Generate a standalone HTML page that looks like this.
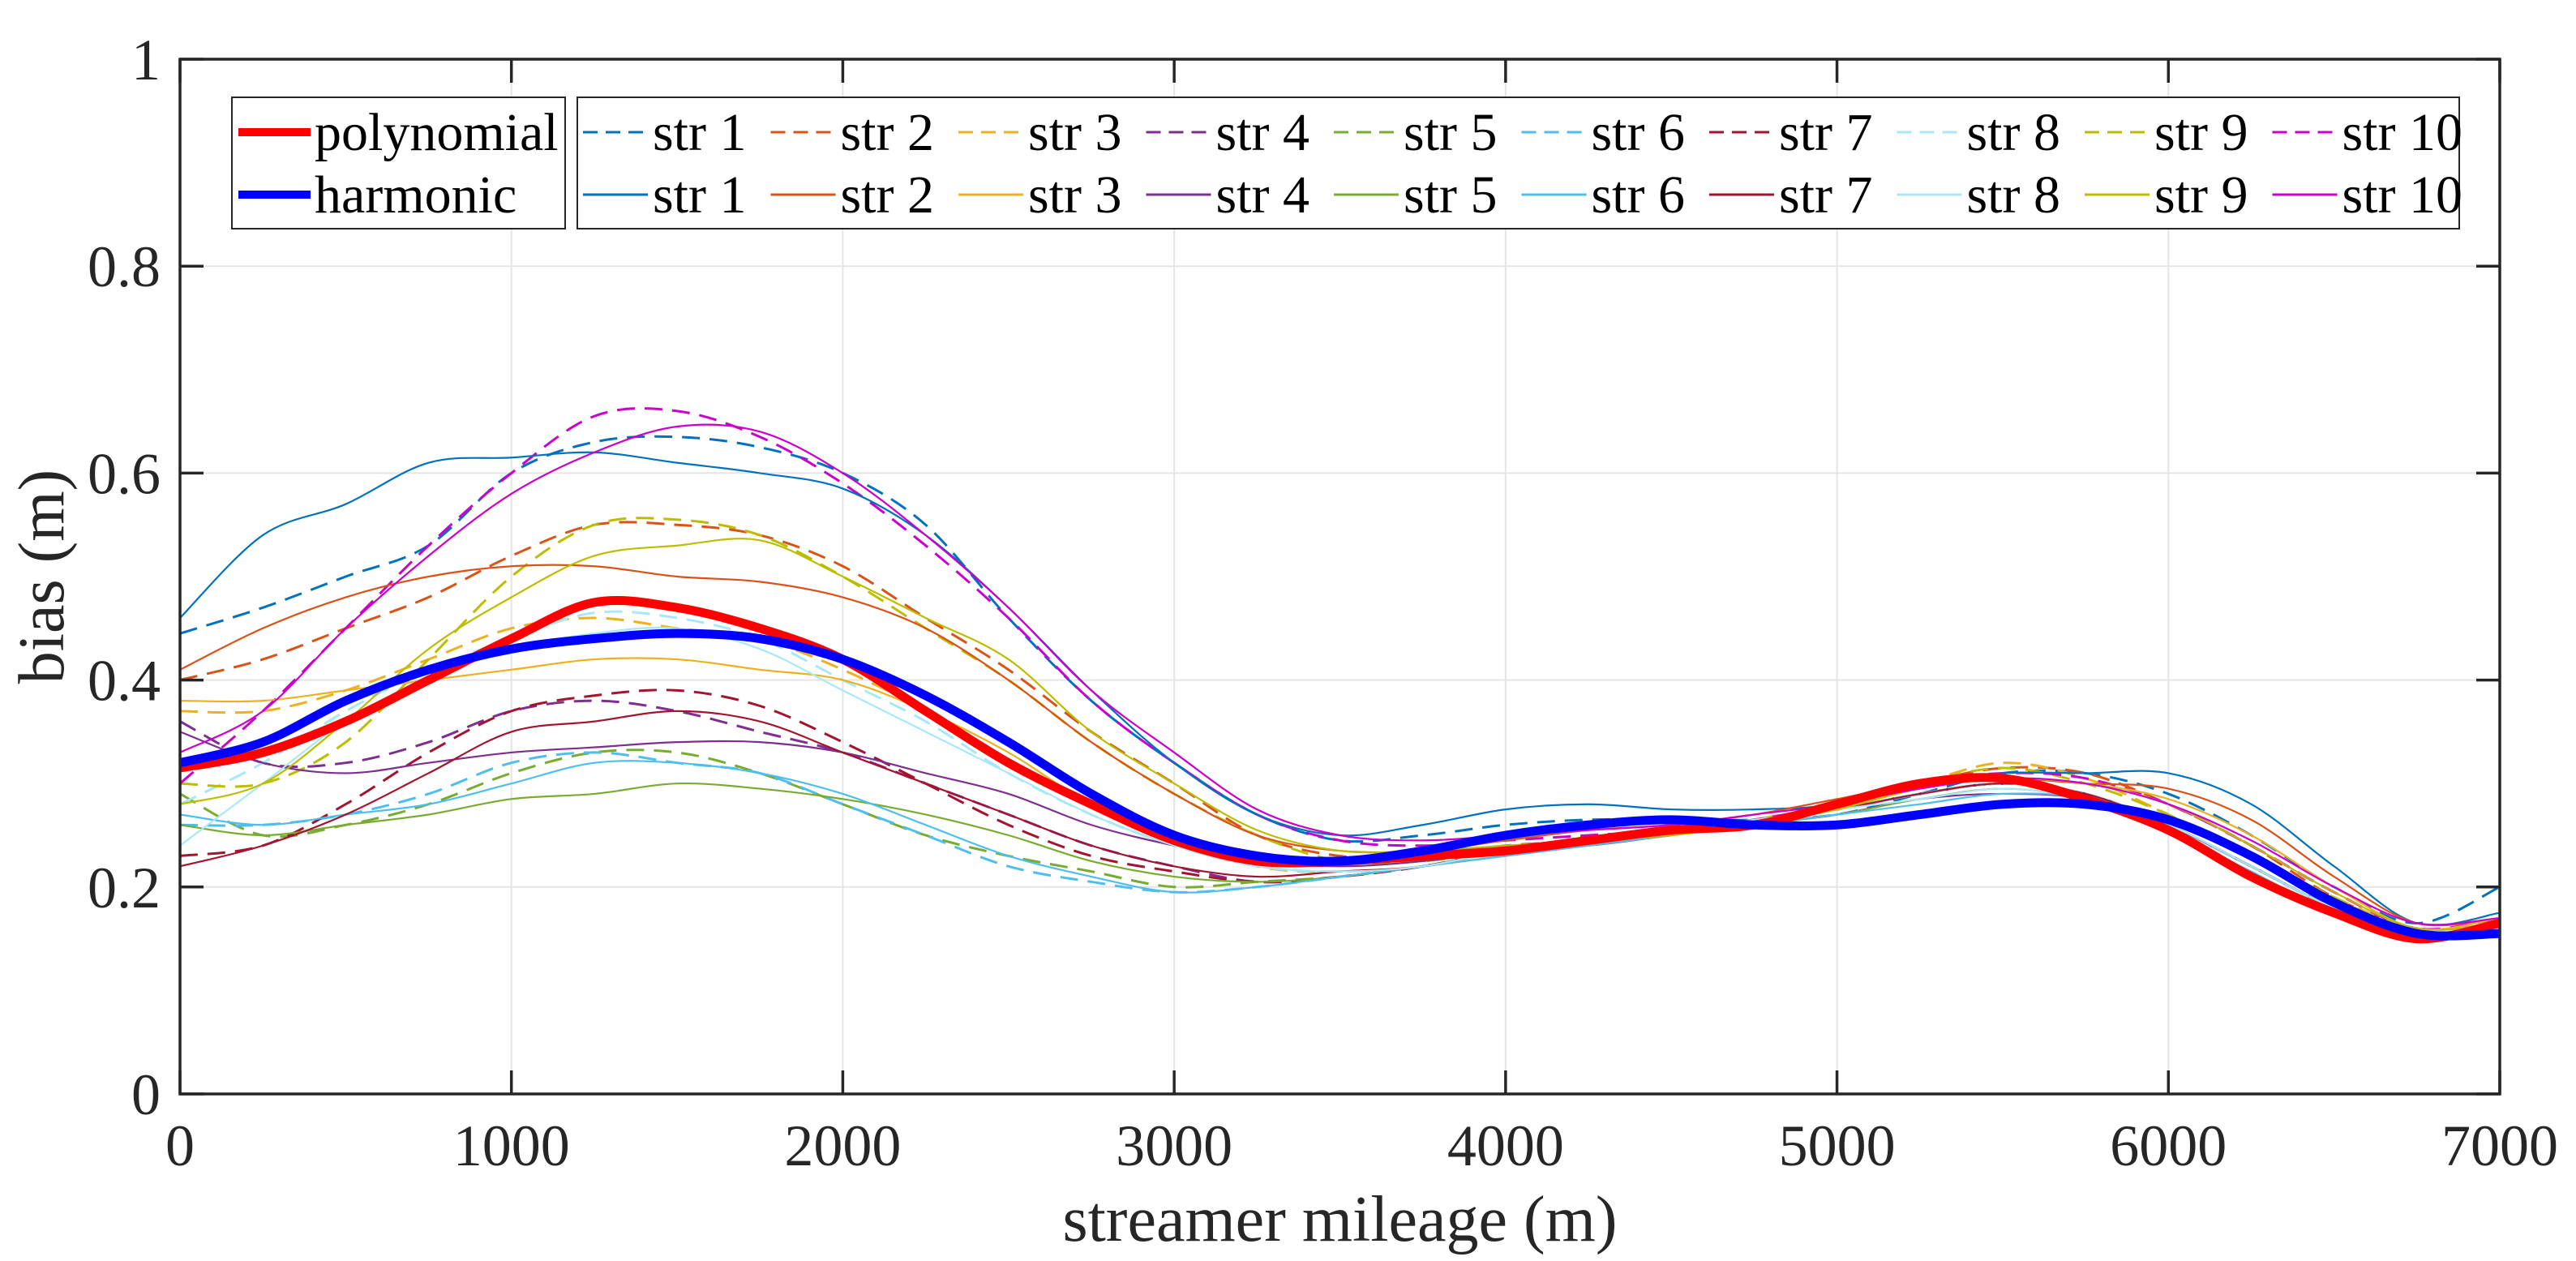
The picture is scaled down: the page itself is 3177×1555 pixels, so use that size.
<!DOCTYPE html>
<html><head><meta charset="utf-8"><style>
html,body{margin:0;padding:0;background:#fff;}
svg{display:block;}
svg text{font-family:"Liberation Serif","Times New Roman",serif;}
</style></head><body>
<svg id="chart" width="3177" height="1555" viewBox="0 0 3177 1555"></svg>
<script>
const xs = [0,250,500,750,1000,1250,1500,1750,2000,2250,2500,2750,3000,3250,3500,3750,4000,4250,4500,4750,5000,5250,5500,5750,6000,6250,6500,6750,7000];
const xTicks = [0,1000,2000,3000,4000,5000,6000,7000];
const yTicks = [0,0.2,0.4,0.6,0.8,1];
const yTickLabels = ["0","0.2","0.4","0.6","0.8","1"];
const strNames = ["str 1","str 2","str 3","str 4","str 5","str 6","str 7","str 8","str 9","str 10"];
const strColors = ["#0072BD","#D95319","#EDB120","#7E2F8E","#77AC30","#4DBEEE","#A2142F","#A8E8FA","#BDBD00","#CC00CC"];
const dashedSeries = [
[0.445,0.47,0.50,0.53,0.60,0.63,0.635,0.625,0.60,0.55,0.46,0.38,0.32,0.27,0.245,0.25,0.26,0.265,0.265,0.265,0.27,0.29,0.31,0.31,0.29,0.25,0.20,0.165,0.20],
[0.40,0.42,0.45,0.48,0.52,0.55,0.55,0.54,0.51,0.46,0.41,0.35,0.30,0.25,0.23,0.23,0.24,0.245,0.255,0.265,0.28,0.30,0.315,0.31,0.28,0.24,0.19,0.16,0.165],
[0.37,0.37,0.39,0.42,0.45,0.46,0.45,0.44,0.41,0.37,0.32,0.28,0.25,0.22,0.215,0.22,0.235,0.245,0.25,0.265,0.28,0.30,0.32,0.305,0.27,0.23,0.19,0.16,0.165],
[0.36,0.32,0.32,0.34,0.37,0.38,0.37,0.35,0.33,0.30,0.27,0.24,0.22,0.205,0.21,0.22,0.235,0.245,0.255,0.265,0.275,0.29,0.30,0.29,0.26,0.22,0.18,0.155,0.16],
[0.29,0.25,0.26,0.28,0.31,0.33,0.33,0.31,0.28,0.25,0.23,0.215,0.20,0.205,0.21,0.22,0.235,0.245,0.255,0.265,0.275,0.29,0.30,0.29,0.26,0.22,0.18,0.155,0.16],
[0.26,0.26,0.27,0.29,0.32,0.33,0.32,0.31,0.28,0.25,0.22,0.205,0.195,0.20,0.21,0.22,0.235,0.245,0.255,0.265,0.275,0.29,0.30,0.29,0.26,0.22,0.18,0.155,0.16],
[0.23,0.24,0.28,0.33,0.37,0.385,0.39,0.375,0.34,0.30,0.26,0.23,0.215,0.205,0.21,0.22,0.235,0.245,0.255,0.265,0.275,0.29,0.30,0.29,0.26,0.22,0.18,0.155,0.16],
[0.28,0.32,0.37,0.41,0.44,0.465,0.46,0.44,0.40,0.36,0.31,0.27,0.24,0.22,0.215,0.22,0.235,0.245,0.255,0.265,0.275,0.29,0.30,0.29,0.26,0.22,0.18,0.155,0.165],
[0.30,0.30,0.34,0.42,0.50,0.55,0.555,0.54,0.50,0.45,0.40,0.34,0.29,0.25,0.225,0.225,0.235,0.245,0.255,0.265,0.28,0.30,0.315,0.30,0.27,0.23,0.19,0.155,0.16],
[0.30,0.37,0.45,0.53,0.60,0.655,0.66,0.635,0.59,0.53,0.46,0.38,0.32,0.27,0.245,0.24,0.245,0.25,0.255,0.265,0.28,0.30,0.31,0.305,0.28,0.24,0.195,0.16,0.17]
];
const solidSeries = [
[0.46,0.54,0.57,0.61,0.615,0.62,0.61,0.60,0.585,0.54,0.47,0.39,0.32,0.27,0.25,0.26,0.275,0.28,0.275,0.275,0.28,0.30,0.31,0.31,0.31,0.28,0.22,0.165,0.175],
[0.41,0.45,0.48,0.50,0.51,0.51,0.50,0.495,0.48,0.45,0.40,0.34,0.29,0.25,0.235,0.235,0.245,0.255,0.26,0.27,0.285,0.30,0.305,0.30,0.295,0.265,0.21,0.165,0.17],
[0.38,0.38,0.39,0.40,0.41,0.42,0.42,0.41,0.40,0.37,0.33,0.28,0.25,0.225,0.22,0.225,0.235,0.24,0.25,0.26,0.275,0.295,0.305,0.30,0.285,0.25,0.20,0.16,0.17],
[0.35,0.32,0.31,0.32,0.33,0.335,0.34,0.34,0.33,0.31,0.29,0.26,0.24,0.225,0.22,0.225,0.235,0.24,0.25,0.26,0.27,0.285,0.29,0.285,0.26,0.22,0.18,0.155,0.165],
[0.26,0.25,0.26,0.27,0.285,0.29,0.30,0.295,0.285,0.27,0.25,0.225,0.21,0.205,0.21,0.22,0.23,0.24,0.25,0.26,0.27,0.285,0.295,0.285,0.26,0.22,0.18,0.155,0.16],
[0.27,0.26,0.27,0.28,0.30,0.32,0.32,0.31,0.29,0.26,0.23,0.21,0.195,0.20,0.21,0.22,0.23,0.24,0.25,0.26,0.27,0.28,0.29,0.285,0.255,0.215,0.175,0.155,0.16],
[0.22,0.24,0.27,0.31,0.35,0.36,0.37,0.36,0.33,0.30,0.27,0.24,0.22,0.21,0.215,0.22,0.235,0.245,0.255,0.265,0.275,0.29,0.30,0.29,0.26,0.22,0.18,0.155,0.165],
[0.24,0.30,0.36,0.40,0.43,0.445,0.45,0.43,0.39,0.35,0.31,0.27,0.24,0.22,0.215,0.22,0.235,0.245,0.255,0.265,0.275,0.285,0.295,0.285,0.26,0.22,0.18,0.155,0.16],
[0.28,0.30,0.36,0.43,0.48,0.52,0.53,0.535,0.50,0.46,0.42,0.35,0.30,0.255,0.235,0.235,0.24,0.245,0.25,0.26,0.275,0.295,0.305,0.30,0.28,0.24,0.195,0.16,0.165],
[0.33,0.37,0.45,0.52,0.58,0.62,0.645,0.64,0.60,0.54,0.47,0.39,0.33,0.275,0.25,0.245,0.25,0.255,0.26,0.27,0.28,0.295,0.305,0.30,0.28,0.245,0.20,0.165,0.17]
];
const polynomial = [0.315,0.33,0.36,0.40,0.44,0.475,0.47,0.45,0.42,0.37,0.32,0.28,0.245,0.225,0.225,0.23,0.235,0.245,0.255,0.26,0.28,0.30,0.305,0.285,0.255,0.21,0.175,0.15,0.165];
const harmonic = [0.32,0.34,0.38,0.41,0.43,0.44,0.445,0.44,0.42,0.385,0.34,0.29,0.25,0.23,0.225,0.235,0.25,0.26,0.265,0.26,0.26,0.27,0.28,0.28,0.265,0.23,0.185,0.155,0.155];

const L=222,R=3083,T=73,B=1349;
const FONT='"Liberation Serif", "Times New Roman", serif';
const xS=v=>L+(v-0)/(7000-0)*(R-L);
const yS=v=>B-(v-0)/(1-0)*(B-T);
const NS="http://www.w3.org/2000/svg";
const svg=document.getElementById('chart');
function mk(tag,attrs,parent){const e=document.createElementNS(NS,tag);for(const k in attrs)e.setAttribute(k,attrs[k]);if(tag==='text')e.setAttribute('font-family',FONT);(parent||svg).appendChild(e);return e;}
function pathFor(vals){
  const p=vals.map((v,i)=>[xS(xs[i]),yS(v)]);
  let d=`M${p[0][0]},${p[0][1]}`;
  for(let i=0;i<p.length-1;i++){
    const p0=p[i-1]||p[i],p1=p[i],p2=p[i+1],p3=p[i+2]||p2;
    const c1=[p1[0]+(p2[0]-p0[0])/6,p1[1]+(p2[1]-p0[1])/6];
    const c2=[p2[0]-(p3[0]-p1[0])/6,p2[1]-(p3[1]-p1[1])/6];
    d+=` C${c1[0]},${c1[1]} ${c2[0]},${c2[1]} ${p2[0]},${p2[1]}`;
  }
  return d;
}
xTicks.forEach(t=>{const g=mk('line',{x1:xS(t),x2:xS(t),y1:T,y2:B,stroke:'#e5e5e5','stroke-width':2});

});
yTicks.forEach(t=>{const g=mk('line',{x1:L,x2:R,y1:yS(t),y2:yS(t),stroke:'#e5e5e5','stroke-width':2});

});
const plot=mk('g',{});


dashedSeries.forEach((s,i)=>{const p=mk('path',{d:pathFor(s),fill:'none',stroke:strColors[i],'stroke-width':3,'stroke-dasharray':'22 12'},plot);

});
solidSeries.forEach((s,i)=>{const p=mk('path',{d:pathFor(s),fill:'none',stroke:strColors[i],'stroke-width':2.2},plot);

});
const pp=mk('path',{d:pathFor(polynomial),fill:'none',stroke:'#ff0000','stroke-width':11,'stroke-linejoin':'round'},plot);


const hp=mk('path',{d:pathFor(harmonic),fill:'none',stroke:'#0000ff','stroke-width':11,'stroke-linejoin':'round'},plot);


const box=mk('rect',{x:L,y:T,width:R-L,height:B-T,fill:'none',stroke:'#262626','stroke-width':3.5});


xTicks.forEach(t=>{
  const a=mk('line',{x1:xS(t),x2:xS(t),y1:B,y2:B-29,stroke:'#262626','stroke-width':3.5});
  
  
  const b=mk('line',{x1:xS(t),x2:xS(t),y1:T,y2:T+29,stroke:'#262626','stroke-width':3.5});
  
  
  const tx=mk('text',{x:xS(t),y:1437,'text-anchor':'middle','font-size':72,fill:'#262626'});tx.textContent=String(t);
  
  
});
yTicks.forEach((t,i)=>{
  const a=mk('line',{x1:L,x2:L+29,y1:yS(t),y2:yS(t),stroke:'#262626','stroke-width':3.5});
  
  
  const b=mk('line',{x1:R,x2:R-29,y1:yS(t),y2:yS(t),stroke:'#262626','stroke-width':3.5});
  
  
  const tx=mk('text',{x:198,y:yS(t)+25,'text-anchor':'end','font-size':72,fill:'#262626'});tx.textContent=yTickLabels[i];
  
  
});
const xt=mk('text',{x:(L+R)/2,y:1530,'text-anchor':'middle','font-size':80,fill:'#262626'});xt.textContent='streamer mileage (m)';


const yt=mk('text',{x:0,y:0,'text-anchor':'middle','font-size':80,fill:'#262626',transform:'translate(78,711) rotate(-90)'});yt.textContent='bias (m)';


const lg1=mk('g',{});


mk('rect',{x:286,y:120,width:411,height:162,fill:'#fff',stroke:'#262626','stroke-width':2},lg1);
[['polynomial','#ff0000',163],['harmonic','#0000ff',240]].forEach(([n,c,y])=>{
  const e=mk('g',{},lg1);
  
  
  mk('line',{x1:294,x2:383,y1:y,y2:y,stroke:c,'stroke-width':10},e);
  const t=mk('text',{x:388,y:y+22,'font-size':66,fill:'#000'},e);t.textContent=n;
});
const lg2=mk('g',{});


mk('rect',{x:712,y:120,width:2321,height:162,fill:'#fff',stroke:'#262626','stroke-width':2},lg2);
strNames.forEach((n,i)=>{
  const x0=719+i*231.5;
  [[163,true],[240,false]].forEach(([y,dash])=>{
    const e=mk('g',{},lg2);
    
    
    const ln=mk('line',{x1:x0,x2:x0+80,y1:y,y2:y,stroke:strColors[i],'stroke-width':3},e);
    if(dash)ln.setAttribute('stroke-dasharray','18 10');
    const t=mk('text',{x:x0+86,y:y+22,'font-size':66,fill:'#000'},e);t.textContent=n;
  });
});
</script>
</body></html>
